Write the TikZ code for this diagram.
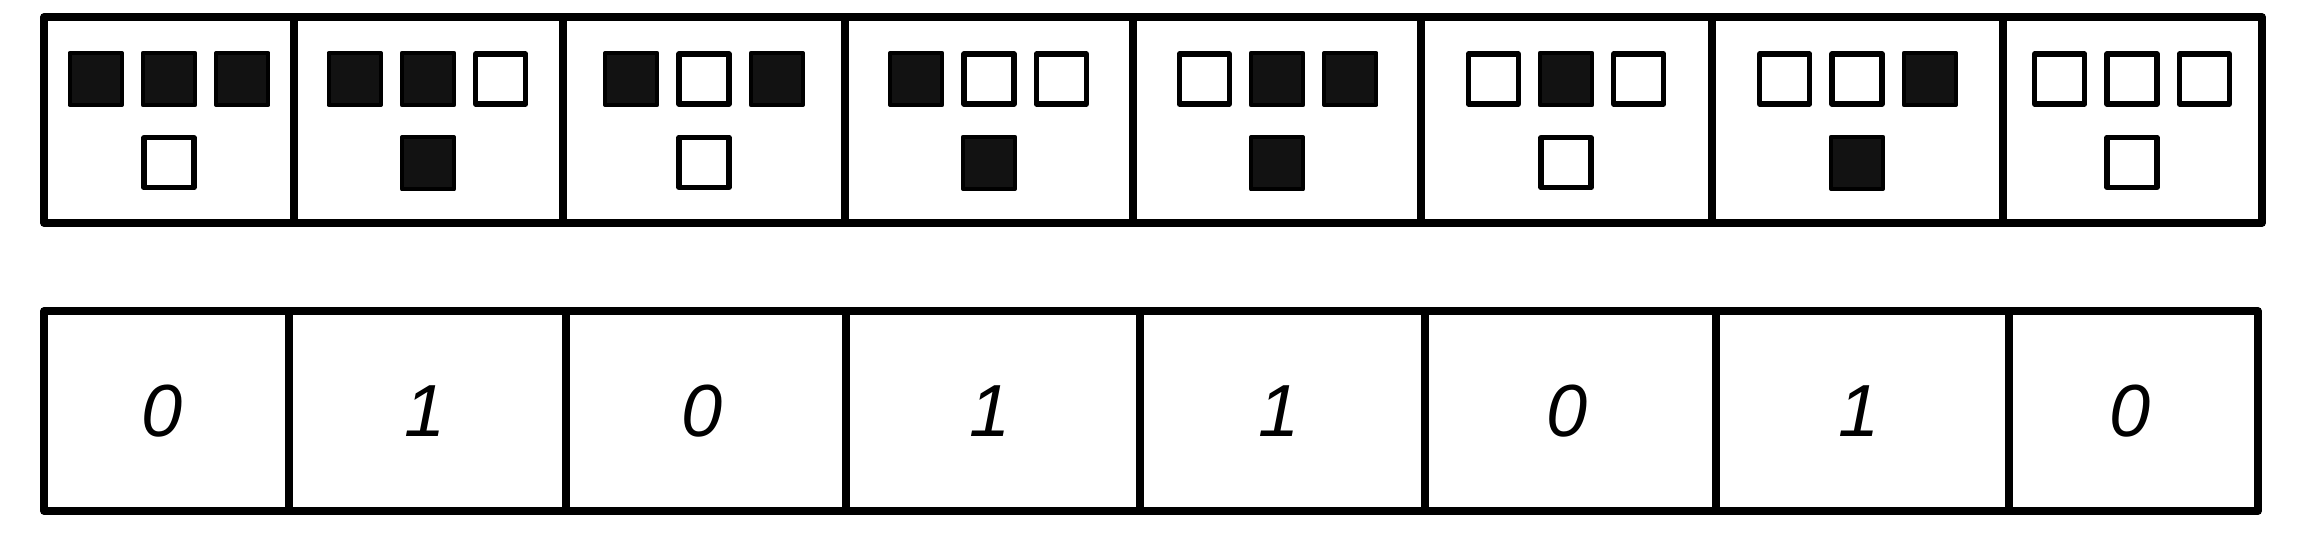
\documentclass[tikz,border=0pt]{standalone}
\usepackage{fontspec}
\newfontfamily\digitfont{Liberation Sans}
\usetikzlibrary{positioning}

\begin{document}
\begin{tikzpicture}[x=0.01cm,y=-0.01cm,line join=round,
frame/.style={draw,line width=2.1pt},
cell1/.style={draw,fill=black!93,rectangle,inner sep=0pt,minimum size=0.52cm,line width=1.2pt},
cell0/.style={draw,fill=white,rectangle,inner sep=0pt,minimum size=0.50cm,line width=1.5pt},
digit/.style={inner sep=0pt,font=\digitfont\itshape\fontsize{21}{21}\selectfont}]

\useasboundingbox (0,0) rectangle (2304,535);

% neighbourhoods
\draw[frame] (44,17) rectangle (2262,223);
\foreach \x in {294,563,845,1133,1421,1712,2003}
  \draw[frame] (\x,17) -- (\x,223);

\foreach \cx/\a/\b/\c/\o [count=\i] in
  {169/1/1/1/0, 428/1/1/0/1, 704/1/0/1/0, 989/1/0/0/1,
   1277/0/1/1/1, 1566/0/1/0/0, 1857/0/0/1/1, 2132/0/0/0/0}
{
  \node[cell\b] (n\i b) at (\cx,79) {};
  \node[cell\a,left=0.17cm of n\i b] (n\i a) {};
  \node[cell\c,right=0.17cm of n\i b] (n\i c) {};
  \node[cell\o,below=0.28cm of n\i b] (n\i o) {};
}

% new states
\draw[frame] (44,311) rectangle (2258,511);
\foreach \x in {289,566,846,1140,1425,1716,2009}
  \draw[frame] (\x,311) -- (\x,511);

\foreach \cx/\d [count=\i] in
  {162/0, 425/1, 702/0, 990/1, 1279/1, 1567/0, 1859/1, 2130/0}
  \node[digit] (s\i) at (\cx,411) {\d};

\end{tikzpicture}
\end{document}
